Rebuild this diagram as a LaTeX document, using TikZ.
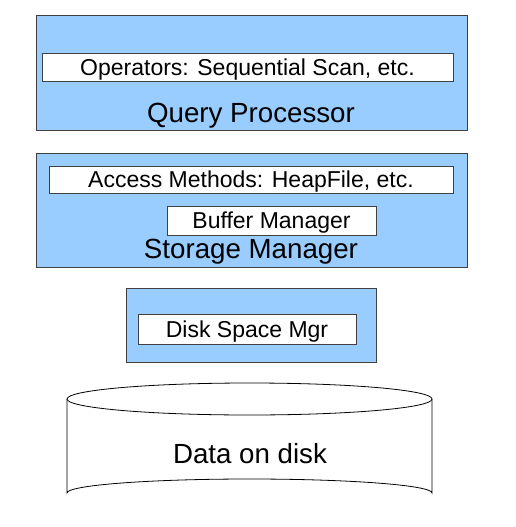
\documentclass[tikz,border=0pt]{standalone}
\usepackage{fontspec}
\setmainfont{Liberation Sans}
\definecolor{boxblue}{HTML}{99CCFF}
\definecolor{edge}{HTML}{404040}
\begin{document}
\begin{tikzpicture}[x=1pt,y=-1pt,
  layer/.style={draw=edge,fill=boxblue,line width=0.9pt},
  inner/.style={draw=edge,fill=white,line width=0.9pt,inner sep=0pt,text height=16pt,text depth=0pt,font=\fontsize{23}{26}\selectfont},
  lbl/.style={inner sep=0pt,anchor=base,font=\fontsize{27.7}{32}\selectfont}]
\useasboundingbox (0,0) rectangle (515,527);
% Query processor
\path[layer] (36,15) rectangle (467,130);
\node[inner, minimum width=411pt, minimum height=28pt] (ops) at (247.5,67) {Operators: Sequential Scan, etc.};
\node[lbl] (qp) at (251,122.7) {Query Processor};
% Storage manager
\path[layer] (36,153) rectangle (467,267);
\node[inner, minimum width=404pt, minimum height=27pt] (am) at (251,179.5) {Access Methods: HeapFile, etc.};
\node[inner, minimum width=209pt, minimum height=29pt] (bm) at (271.5,220.5) {Buffer Manager};
\node[lbl] (sm) at (251,258) {Storage Manager};
% Disk space
\path[layer] (126,288) rectangle (376,362);
\node[inner, minimum width=218pt, minimum height=30pt] (dsm) at (247,329) {Disk Space Mgr};
% Cylinder
\draw[draw=black,fill=white,line width=0.8pt] (67,399) -- (67,493) arc[start angle=180,end angle=360,x radius=182.5,y radius=14] -- (432,399);
\draw[draw=black,fill=white,line width=0.8pt] (249.5,399) ellipse[x radius=182.5,y radius=16];
\node[lbl] (data) at (250,463) {Data on disk};
\end{tikzpicture}
\end{document}
